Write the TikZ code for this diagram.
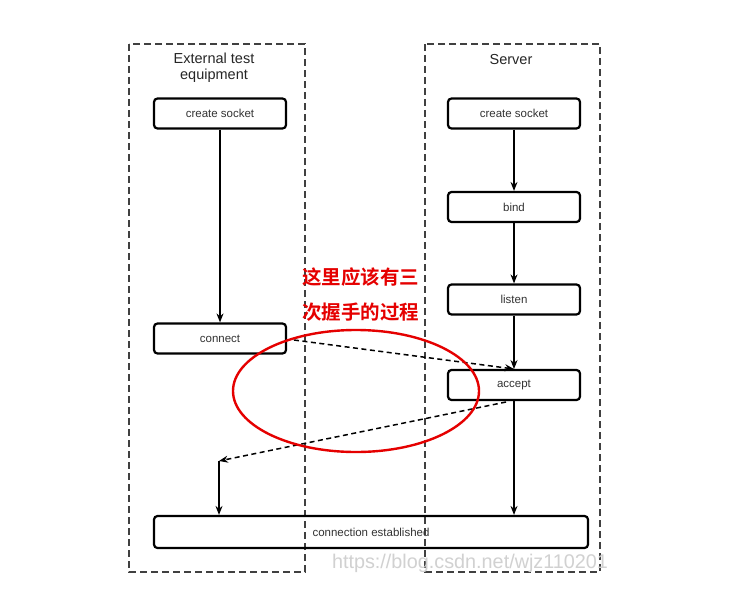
\documentclass[tikz,border=0pt]{standalone}
\usepackage{fontspec}
\setmainfont{Liberation Sans}
\newfontfamily\cjk{Noto Sans CJK SC Bold}
\usetikzlibrary{arrows.meta}
\begin{document}
\begin{tikzpicture}[x=1pt,y=-1pt,
  lane/.style={draw=black!75,dash pattern=on 7pt off 4pt,line width=1.4pt},
  stepbox/.style={draw=black,line width=2.2pt,rounded corners=3.5pt,minimum height=30pt,inner sep=0pt,font=\fontsize{11.5}{13}\selectfont,text=black!80},
  flow/.style={draw=black,line width=1.2pt,-{Stealth[length=9pt,width=7pt]}},
  dflow/.style={draw=black,line width=1.5pt,dash pattern=on 5pt off 3.5pt,-{Stealth[length=9pt,width=7pt]}},
  lanetitle/.style={font=\fontsize{14.5}{16.5}\selectfont,text=black!85,align=center}
]
\useasboundingbox (0,0) rectangle (743,599);
\fill[white] (0,0) rectangle (743,599);
% lanes
\draw[lane] (129,44) rectangle (305,572);
\draw[lane] (425,44) rectangle (600,572);
\node[lanetitle] (tl) at (214,68) {External test\\equipment};
\node[lanetitle] (tr) at (511,60) {Server};
% nodes
\node[stepbox,minimum width=132pt] (cs1) at (220,113.5) {create socket};
\node[stepbox,minimum width=132pt] (cs2) at (514,113.5) {create socket};
\node[stepbox,minimum width=132pt] (bind) at (514,207) {bind};
\node[stepbox,minimum width=132pt] (listen) at (514,299.5) {listen};
\node[stepbox,minimum width=132pt] (conn) at (220,338.5) {connect};
\node[stepbox,minimum width=132pt] (acc) at (514,385) {accept};
\node[stepbox,minimum width=434pt,minimum height=32pt] (est) at (371,532) {connection established};
% coordinates
\coordinate (p1) at (514,369);
\coordinate (p2) at (219,461);
\coordinate (c1) at (294,340);
\coordinate (a1) at (506,402);
% connectors
\draw[flow] (cs1) -- (conn);
\draw[flow] (cs2) -- (bind);
\draw[flow] (bind) -- (listen);
\draw[flow] (listen) -- (p1);
\draw[dflow] (c1) -- (p1);
\draw[dflow] (a1) -- (p2);
\draw[flow] (p2) -- (est.north -| p2);
\draw[flow] (acc) -- (est.north -| acc);
% red annotation
\draw[red!90!black,line width=2.4pt] (356,391) ellipse [x radius=123pt, y radius=61pt];
\node[text=red!90!black,font=\cjk\fontsize{19.5}{22}\selectfont,anchor=west,inner sep=0pt] (n1) at (302,277) {这里应该有三};
\node[text=red!90!black,font=\cjk\fontsize{19.5}{22}\selectfont,anchor=west,inner sep=0pt] (n2) at (302,312) {次握手的过程};
% watermark
\node[text=black!18,font=\fontsize{19.8}{22}\selectfont,inner sep=0pt] (wm) at (470,563) {https://blog.csdn.net/wjz110201};
\end{tikzpicture}
\end{document}
